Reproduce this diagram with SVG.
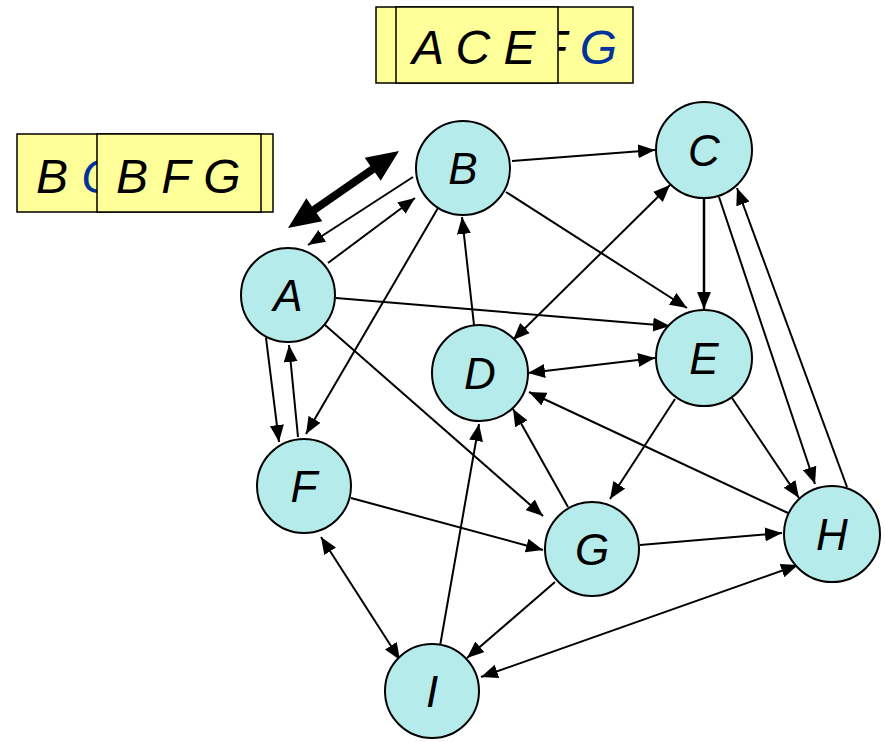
<svg xmlns="http://www.w3.org/2000/svg" width="885" height="742" viewBox="0 0 885 742">
<style>
.node circle{fill:#b5ebeb;stroke:#000;stroke-width:2}
.node text{font-family:"Liberation Sans",Arial,sans-serif;font-style:italic;font-size:44px;fill:#000;text-anchor:middle}
.edge{stroke:#000;stroke-width:2;fill:none;marker-end:url(#ah)}
.both{marker-start:url(#ah)}
.box rect{fill:#ffff99;stroke:#000;stroke-width:1.5}
.box text{font-family:"Liberation Sans",Arial,sans-serif;font-style:italic;font-size:48px;fill:#000}
.blue{fill:#003399}
</style>
<defs>
<marker id="ah" viewBox="0 0 17 14" refX="17" refY="7" markerWidth="17" markerHeight="14" markerUnits="userSpaceOnUse" orient="auto-start-reverse">
<path d="M0,0 L17,7 L0,14 z" fill="#000"/>
</marker>
</defs>
<rect width="885" height="742" fill="#fff"/>
<g id="box-top" class="box">
<rect x="376" y="7" width="257" height="76"/>
<text x="538" y="64">F <tspan class="blue">G</tspan></text>
<rect x="396" y="7" width="162" height="76"/>
<text x="412" y="64">A C E</text>
</g>
<g id="box-left" class="box">
<rect x="17" y="134" width="256" height="78"/>
<text x="36" y="193">B <tspan class="blue">C</tspan></text>
<rect x="97" y="134" width="164" height="78"/>
<text x="116" y="193">B F G</text>
</g>
<g id="connectors">
<polygon points="288,228 322.3,221.3 316.6,213.1 375,172.5 380.7,180.7 399,151 364.7,157.7 370.4,166 312,206.5 306.3,198.3" fill="#000"/>
<path class="edge" d="M413,177 L308,245"/>
<path class="edge" d="M328,263 L415,198"/>
<path class="edge" d="M512,161 L655,150"/>
<path class="edge" d="M506,192 L687,308"/>
<path class="edge both" d="M513,340 L670,185"/>
<path class="edge" d="M336,298 L670,326"/>
<path class="edge both" d="M528,373 L655,358"/>
<path class="edge" d="M704,198 L704,309" style="stroke-width:2.5"/>
<path class="edge" d="M719,197 L815,484"/>
<path class="edge" d="M847,487 L737,188"/>
<path class="edge" d="M732,398 L799,498"/>
<path class="edge" d="M788,513 L529,392"/>
<path class="edge" d="M675,399 L610,499"/>
<path class="edge" d="M568,507 L513,409"/>
<path class="edge" d="M325,325 L543,516"/>
<path class="edge" d="M351,498 L543,550"/>
<path class="edge" d="M640,545 L782,533"/>
<path class="edge" d="M440,646 L479,424"/>
<path class="edge" d="M555,582 L467,658"/>
<path class="edge both" d="M481,677 L798,565"/>
<path class="edge both" d="M321,537 L400,660"/>
<path class="edge" d="M266,338 L279,442"/>
<path class="edge" d="M298,437 L289,345"/>
<path class="edge" d="M438,208 L306,434"/>
<path class="edge" d="M474,325 L462,217"/>
</g>
<g id="A" class="node"><circle cx="288" cy="295" r="47"/><text x="288" y="311">A</text></g>
<g id="B" class="node"><circle cx="463" cy="168" r="47"/><text x="463" y="184">B</text></g>
<g id="C" class="node"><circle cx="704" cy="150" r="48"/><text x="704" y="166">C</text></g>
<g id="D" class="node"><circle cx="480" cy="373" r="48"/><text x="480" y="389">D</text></g>
<g id="E" class="node"><circle cx="704" cy="358" r="48"/><text x="704" y="374">E</text></g>
<g id="F" class="node"><circle cx="304" cy="486" r="47"/><text x="304" y="502">F</text></g>
<g id="G" class="node"><circle cx="592" cy="549" r="47"/><text x="592" y="565">G</text></g>
<g id="H" class="node"><circle cx="832" cy="534" r="48"/><text x="832" y="550">H</text></g>
<g id="I" class="node"><circle cx="432" cy="691" r="47"/><text x="432" y="707">I</text></g>
</svg>
